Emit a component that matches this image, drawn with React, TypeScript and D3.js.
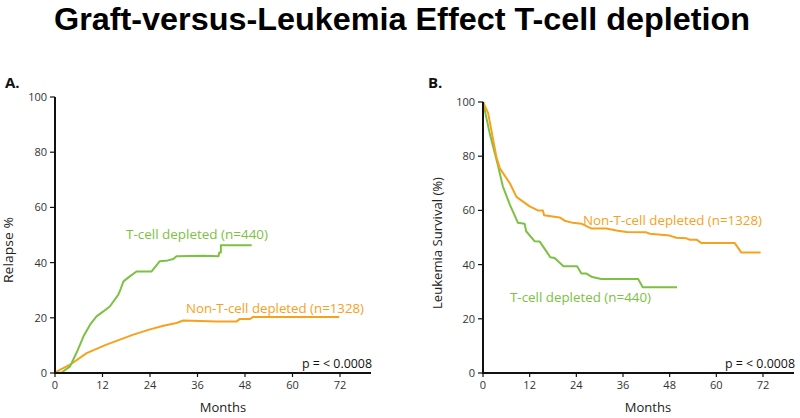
import React from "react";
import * as d3 from "d3";

type Pt = [number, number];

const xTicks = [0, 12, 24, 36, 48, 60, 72];
const yTicks = [0, 20, 40, 60, 80, 100];

const relapseTcd: Pt[] = [
  [0, 0], [1.7, 0.2], [3.8, 2.4], [5.5, 7.5], [7.2, 13.3], [9, 17.8], [10.5, 20.5], [12.3, 22.4], [13.9, 24.2],
  [16, 28.4], [16.6, 30.5], [17.3, 33.2], [18.9, 35], [20.6, 36.8], [24.4, 36.8], [26.5, 40.5],
  [28.5, 40.8], [29.9, 41.3], [30.7, 42.3], [37.5, 42.5], [41.3, 42.3], [41.5, 43.7], [41.9, 43.7],
  [41.9, 46.3], [49.7, 46.3],
];
const relapseNon: Pt[] = [
  [0, 0.2], [3.8, 3], [8, 7.2], [13, 10.3], [19.8, 13.9], [24, 15.8], [27.4, 17.1], [30.7, 18.1],
  [32.4, 19], [40.8, 18.7], [45.9, 18.7], [46.7, 19.6], [49.3, 19.6], [50.1, 20.3], [71.8, 20.3],
];
const survNon: Pt[] = [
  [0, 100], [1.3, 96], [2.1, 90], [3.4, 80], [4.3, 75.6], [6.9, 70], [8.6, 65], [12, 61.5], [14.1, 60],
  [15.4, 60], [15.7, 58.2], [19.7, 57.4], [21, 56.2], [23.1, 55.4], [25.3, 55.1], [27.9, 53.3],
  [31.7, 53.3], [34.3, 52.6], [36.9, 52], [42, 51.9], [42.9, 51.4], [48, 50.7], [49.7, 49.9],
  [52.3, 49.7], [53.1, 49.2], [54.9, 49.2], [56.1, 48], [64.7, 48], [66.4, 44.5], [71.4, 44.5],
];
const survTcd: Pt[] = [
  [0, 100], [1.7, 88.6], [3.9, 76.3], [5.1, 68.9], [6.9, 62.1], [9, 55.4], [10.7, 55.1], [11.1, 52.3],
  [13.3, 48.6], [14.6, 48.5], [16.3, 44.9], [17.3, 42.7], [18.4, 42.4], [20.7, 39.4], [24.2, 39.4],
  [25.3, 36.7], [26.6, 36.7], [28.1, 35.4], [30.4, 34.7], [39.9, 34.7], [41.1, 31.6], [49.9, 31.6],
];

const GREEN = "#7dc142";
const ORANGE = "#f7a11c";
const FONT = "'Open Sans', 'DejaVu Sans', sans-serif";
const TITLE_FONT = "'Liberation Sans', Arial, sans-serif";

type Label = { text: string; x: number; y: number; w: number; color: string };

interface PanelProps {
  letter: string;
  letterX: number;
  x0: number;
  x72: number;
  xEnd: number;
  yTop: number;
  yBottom: number;
  yLabel: string;
  yLabelX: number;
  yLabelY: number;
  yLabelW: number;
  series: { data: Pt[]; color: string }[];
  labels: Label[];
  pX: number;
  monthsX: number;
}

function Panel(p: PanelProps) {
  const x = d3.scaleLinear().domain([0, 72]).range([p.x0, p.x72]);
  const y = d3.scaleLinear().domain([0, 100]).range([p.yBottom, p.yTop]);
  const line = d3.line<Pt>().x((d) => x(d[0])).y((d) => y(d[1]));
  return (
    <g>
      <text x={p.letterX} y={88} fontFamily={FONT} fontWeight={700} fontSize={15} fill="#111">
        {p.letter}
      </text>
      {p.series.map((s, i) => (
        <path key={i} d={line(s.data) || ""} fill="none" stroke={s.color} strokeWidth={2} strokeLinejoin="round" />
      ))}
      <line x1={p.x0} x2={p.x0} y1={p.yTop} y2={p.yBottom} stroke="#111" strokeWidth={2} />
      <line x1={p.x0 - 1} x2={p.xEnd} y1={p.yBottom} y2={p.yBottom} stroke="#111" strokeWidth={2} />
      {yTicks.map((t) => (
        <g key={"y" + t}>
          <line x1={p.x0 - 5} x2={p.x0} y1={y(t)} y2={y(t)} stroke="#111" strokeWidth={1.2} />
          <text x={p.x0 - 8} y={y(t) + 4} textAnchor="end" fontFamily={FONT} fontSize={11} fill="#333">
            {t}
          </text>
        </g>
      ))}
      {xTicks.map((t) => (
        <g key={"x" + t}>
          <line x1={x(t)} x2={x(t)} y1={p.yBottom} y2={p.yBottom + 4} stroke="#111" strokeWidth={1.2} />
          <text x={x(t)} y={p.yBottom + 16} textAnchor="middle" fontFamily={FONT} fontSize={11} fill="#333">
            {t}
          </text>
        </g>
      ))}
      <text x={p.monthsX} y={412} textAnchor="middle" fontFamily={FONT} fontSize={13} fill="#222">
        Months
      </text>
      <text
        transform={`translate(${p.yLabelX},${p.yLabelY}) rotate(-90)`}
        textAnchor="middle"
        fontFamily={FONT}
        fontSize={12}
        fill="#222"
        textLength={p.yLabelW}
        lengthAdjust="spacingAndGlyphs"
      >
        {p.yLabel}
      </text>
      {p.labels.map((l, i) => (
        <text key={i} x={l.x} y={l.y} fontFamily={FONT} fontSize={13} fill={l.color} textLength={l.w} lengthAdjust="spacingAndGlyphs">
          {l.text}
        </text>
      ))}
      <text x={p.pX} y={368} fontFamily={FONT} fontSize={12} fill="#111" textLength={70} lengthAdjust="spacingAndGlyphs">
        p = &lt; 0.0008
      </text>
    </g>
  );
}

export default function App() {
  return (
    <svg width={800} height={418} viewBox="0 0 800 418" style={{ display: "block", position: "absolute", left: 0, top: 0, background: "#fff" }}>
      <rect width={800} height={418} fill="#fff" />
      <text
        x={402}
        y={30}
        textAnchor="middle"
        fontFamily={TITLE_FONT}
        fontWeight={700}
        fontSize={31}
        fill="#000"
        textLength={696}
        lengthAdjust="spacingAndGlyphs"
      >
        Graft-versus-Leukemia Effect T-cell depletion
      </text>
      <Panel
        letter="A."
        letterX={5}
        x0={55}
        x72={340}
        xEnd={371}
        yTop={97}
        yBottom={373}
        yLabel="Relapse  %"
        yLabelX={13}
        yLabelY={250}
        yLabelW={66}
        series={[
          { data: relapseNon, color: ORANGE },
          { data: relapseTcd, color: GREEN },
        ]}
        labels={[
          { text: "T-cell depleted (n=440)", x: 126, y: 239, w: 142, color: GREEN },
          { text: "Non-T-cell depleted (n=1328)", x: 186, y: 313, w: 178, color: ORANGE },
        ]}
        pX={302}
        monthsX={223}
      />
      <Panel
        letter="B."
        letterX={428}
        x0={483}
        x72={763}
        xEnd={794}
        yTop={102}
        yBottom={373}
        yLabel="Leukemia Survival (%)"
        yLabelX={442}
        yLabelY={243}
        yLabelW={132}
        series={[
          { data: survTcd, color: GREEN },
          { data: survNon, color: ORANGE },
        ]}
        labels={[
          { text: "Non-T-cell depleted (n=1328)", x: 583, y: 225, w: 179, color: ORANGE },
          { text: "T-cell depleted (n=440)", x: 510, y: 302, w: 141, color: GREEN },
        ]}
        pX={725}
        monthsX={648}
      />
    </svg>
  );
}
